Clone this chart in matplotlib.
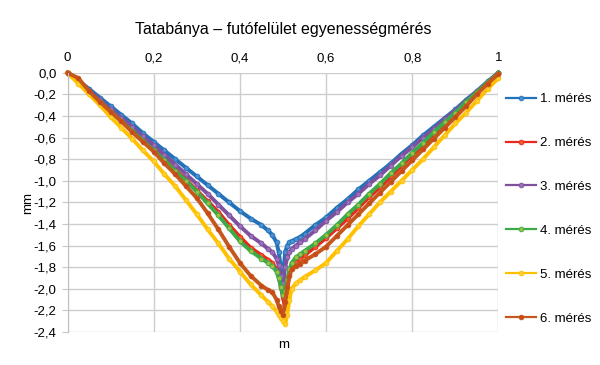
import matplotlib
matplotlib.use("Agg")
import matplotlib.pyplot as plt

plt.rcParams['font.family'] = ['Liberation Sans', 'DejaVu Sans']

# x positions (m)
x = [0, 0.025, 0.05, 0.075, 0.1, 0.125, 0.15, 0.175, 0.2, 0.225,
     0.25, 0.275, 0.3, 0.325, 0.35, 0.375, 0.4, 0.425, 0.45, 0.465,
     0.475, 0.485, 0.49, 0.495, 0.5, 0.505, 0.51, 0.515, 0.52, 0.53,
     0.54, 0.55, 0.575, 0.6, 0.625, 0.65, 0.675, 0.7, 0.725, 0.75,
     0.775, 0.8, 0.825, 0.85, 0.875, 0.9, 0.925, 0.95, 0.975, 1.0]

# measured deviations (mm)
meres1 = [0, -0.07, -0.15, -0.23, -0.31, -0.39, -0.47, -0.56, -0.64, -0.72,
          -0.80, -0.88, -0.96, -1.04, -1.12, -1.20, -1.28, -1.35, -1.41, -1.46,
          -1.50, -1.57, -1.66, -1.80, -1.88, -1.66, -1.60, -1.57, -1.56, -1.54,
          -1.52, -1.49, -1.41, -1.34, -1.25, -1.17, -1.08, -1.00, -0.92, -0.84,
          -0.75, -0.67, -0.58, -0.50, -0.42, -0.34, -0.25, -0.17, -0.08, 0.0]
meres2 = [0, -0.08, -0.17, -0.26, -0.35, -0.44, -0.53, -0.62, -0.71, -0.80,
          -0.90, -0.99, -1.09, -1.19, -1.29, -1.41, -1.52, -1.62, -1.69, -1.73,
          -1.76, -1.82, -1.88, -1.98, -2.08, -2.18, -2.02, -1.86, -1.79, -1.75,
          -1.72, -1.69, -1.61, -1.53, -1.44, -1.35, -1.25, -1.15, -1.06, -0.96,
          -0.86, -0.76, -0.67, -0.57, -0.47, -0.38, -0.28, -0.19, -0.09, 0.0]
meres3 = [0, -0.08, -0.17, -0.25, -0.34, -0.42, -0.50, -0.59, -0.67, -0.76,
          -0.85, -0.94, -1.03, -1.12, -1.22, -1.32, -1.42, -1.51, -1.58, -1.63,
          -1.66, -1.72, -1.78, -1.88, -1.95, -1.80, -1.71, -1.66, -1.63, -1.60,
          -1.57, -1.54, -1.46, -1.37, -1.29, -1.20, -1.12, -1.03, -0.95, -0.86,
          -0.77, -0.69, -0.60, -0.52, -0.43, -0.35, -0.26, -0.17, -0.09, 0.0]
meres4 = [0, -0.09, -0.18, -0.27, -0.36, -0.45, -0.54, -0.63, -0.72, -0.81,
          -0.91, -1.00, -1.10, -1.21, -1.32, -1.44, -1.56, -1.65, -1.72, -1.76,
          -1.79, -1.84, -1.90, -1.98, -2.06, -2.02, -1.92, -1.82, -1.76, -1.71,
          -1.68, -1.65, -1.58, -1.50, -1.41, -1.31, -1.22, -1.12, -1.03, -0.93,
          -0.84, -0.74, -0.65, -0.55, -0.46, -0.37, -0.27, -0.18, -0.09, 0.0]
meres5 = [0, -0.10, -0.20, -0.30, -0.41, -0.51, -0.61, -0.72, -0.82, -0.94,
          -1.05, -1.18, -1.31, -1.45, -1.58, -1.72, -1.84, -1.96, -2.06, -2.12,
          -2.16, -2.21, -2.24, -2.27, -2.30, -2.33, -2.24, -2.10, -2.00, -1.95,
          -1.92, -1.89, -1.83, -1.76, -1.65, -1.54, -1.42, -1.31, -1.20, -1.10,
          -1.00, -0.90, -0.80, -0.69, -0.58, -0.47, -0.37, -0.26, -0.15, -0.05]
meres6 = [0, -0.05, -0.17, -0.27, -0.36, -0.45, -0.55, -0.64, -0.73, -0.84,
          -0.94, -1.05, -1.16, -1.30, -1.45, -1.61, -1.76, -1.88, -1.97, -2.01,
          -2.03, -2.10, -2.16, -2.21, -2.24, -2.12, -1.98, -1.88, -1.82, -1.79,
          -1.77, -1.74, -1.68, -1.61, -1.51, -1.41, -1.31, -1.21, -1.11, -1.01,
          -0.91, -0.81, -0.71, -0.61, -0.51, -0.41, -0.31, -0.20, -0.10, -0.01]

series = [meres1, meres2, meres3, meres4, meres5, meres6]
labels = ['1. mérés', '2. mérés', '3. mérés', '4. mérés', '5. mérés', '6. mérés']
colors = ['#2272B9', '#E8281E', '#7E50A0', '#3BAA48', '#FFC000', '#C5571A']
mcolors = ['#4A90D0', '#F05A28', '#9A70B8', '#9CC040', '#FFD030', '#C8481A']

xticks = [0, 0.2, 0.4, 0.6, 0.8, 1]
yticks = [0.0, -0.2, -0.4, -0.6, -0.8, -1.0, -1.2, -1.4, -1.6, -1.8, -2.0, -2.2, -2.4]

fig = plt.figure(figsize=(6, 3.65), dpi=100)
ax = fig.add_axes([0.1125, 0.0904, 0.7183, 0.7104])

for vals, lab, c, mc in zip(series, labels, colors, mcolors):
    ax.plot(x, vals, color=c, linewidth=2.8, marker='o', markersize=3.4,
            markerfacecolor=mc, markeredgecolor=c, markeredgewidth=0.6,
            label=lab, clip_on=False)

ax.set_xlim(0, 1)
ax.set_ylim(-2.4, 0)
ax.set_xticks(xticks)
ax.set_xticklabels(['0', '0,2', '0,4', '0,6', '0,8', '1'])
ax.set_yticks(yticks)
ax.set_yticklabels([('%.1f' % v).replace('.', ',') for v in yticks])
ax.xaxis.tick_top()
ax.tick_params(axis='x', length=0, pad=6, labelsize=9.5)
ax.tick_params(axis='y', length=4, color='#C8C8C8', pad=4, labelsize=9.5)
ax.grid(True, color='#CDCDCD', linewidth=1)
ax.set_axisbelow(True)
for s in ['top', 'right', 'bottom']:
    ax.spines[s].set_visible(False)
ax.spines['left'].set_color('#C0C0C0')

fig.text(0.472, 0.055, 'm', ha='center', va='center', fontsize=9.5)
fig.text(0.047, 0.445, 'mm', ha='center', va='center', rotation=90, fontsize=9.5)
fig.suptitle('Tatabánya – futófelület egyenességmérés', x=0.472, y=0.94, fontsize=11.5)

leg = ax.legend(loc='upper left', bbox_to_anchor=(0.843, 0.745),
                bbox_transform=fig.transFigure, frameon=False, fontsize=9.5,
                handlelength=2.3, handletextpad=0.3, labelspacing=2.4,
                borderaxespad=0, borderpad=0)
for h in leg.legend_handles:
    h.set_linewidth(1.6)

fig.savefig('out.png', dpi=100)
